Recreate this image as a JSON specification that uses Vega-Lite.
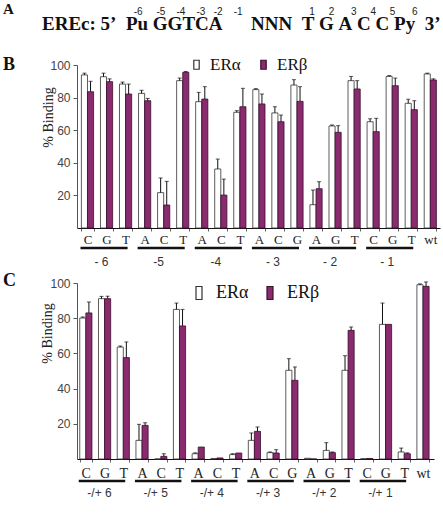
{
  "$schema": "https://vega.github.io/schema/vega-lite/v6.json",
  "padding": {"left": 3, "top": 2, "right": 0, "bottom": 0},
  "autosize": {"type": "pad"},
  "config": {"view": {"stroke": null}, "font": "Liberation Serif"},
  "title": {"text": "A", "anchor": "start", "frame": "bounds", "font": "Liberation Serif", "fontSize": 15, "fontWeight": "bold", "color": "#111", "offset": -10},
  "spacing": 4,
  "resolve": {"scale": {"fill": "independent", "stroke": "independent"}, "legend": {"fill": "independent", "stroke": "independent"}},
  "datasets": {
    "b": [
      {"k": "C|-6", "r": "ERα", "v": 93.9, "e": 95},
      {"k": "C|-6", "r": "ERβ", "v": 83.6, "e": 90},
      {"k": "G|-6", "r": "ERα", "v": 92.8, "e": 95},
      {"k": "G|-6", "r": "ERβ", "v": 89.8, "e": 91.5},
      {"k": "T|-6", "r": "ERα", "v": 88.3, "e": 89.5},
      {"k": "T|-6", "r": "ERβ", "v": 82.2, "e": 88.3},
      {"k": "A|-5", "r": "ERα", "v": 82.6, "e": 84.5},
      {"k": "A|-5", "r": "ERβ", "v": 78.1, "e": 79.5},
      {"k": "C|-5", "r": "ERα", "v": 21.7, "e": 30.7},
      {"k": "C|-5", "r": "ERβ", "v": 14.1, "e": 28.6},
      {"k": "T|-5", "r": "ERα", "v": 90.4, "e": 92},
      {"k": "T|-5", "r": "ERβ", "v": 95.5, "e": 96},
      {"k": "A|-4", "r": "ERα", "v": 77.5, "e": 83.2},
      {"k": "A|-4", "r": "ERβ", "v": 79.1, "e": 86.7},
      {"k": "C|-4", "r": "ERα", "v": 36.2, "e": 42.3},
      {"k": "C|-4", "r": "ERβ", "v": 20.2, "e": 30},
      {"k": "T|-4", "r": "ERα", "v": 71, "e": 72},
      {"k": "T|-4", "r": "ERβ", "v": 74.4, "e": 85.7},
      {"k": "A|-3", "r": "ERα", "v": 84.9, "e": 85.5},
      {"k": "A|-3", "r": "ERβ", "v": 76.1, "e": 82.2},
      {"k": "C|-3", "r": "ERα", "v": 70.6, "e": 74.4},
      {"k": "C|-3", "r": "ERβ", "v": 65.2, "e": 69.3},
      {"k": "G|-3", "r": "ERα", "v": 87.7, "e": 91},
      {"k": "G|-3", "r": "ERβ", "v": 77.7, "e": 86.7},
      {"k": "A|-2", "r": "ERα", "v": 14.3, "e": 23.3},
      {"k": "A|-2", "r": "ERβ", "v": 24.1, "e": 28.4},
      {"k": "G|-2", "r": "ERα", "v": 62.6, "e": 63.2},
      {"k": "G|-2", "r": "ERβ", "v": 58.7, "e": 62.8},
      {"k": "T|-2", "r": "ERα", "v": 90.4, "e": 93},
      {"k": "T|-2", "r": "ERβ", "v": 85.3, "e": 90.4},
      {"k": "C|-1", "r": "ERα", "v": 65.2, "e": 67},
      {"k": "C|-1", "r": "ERβ", "v": 59.1, "e": 67.3},
      {"k": "G|-1", "r": "ERα", "v": 93, "e": 93.5},
      {"k": "G|-1", "r": "ERβ", "v": 87.3, "e": 92},
      {"k": "T|-1", "r": "ERα", "v": 76.5, "e": 79},
      {"k": "T|-1", "r": "ERβ", "v": 72.6, "e": 78.1},
      {"k": "wt|", "r": "ERα", "v": 94.5, "e": 95},
      {"k": "wt|", "r": "ERβ", "v": 90.8, "e": 91.5}
    ],
    "c": [
      {"k": "C|-6", "r": "ERα", "v": 80.1, "e": 80.7},
      {"k": "C|-6", "r": "ERβ", "v": 83, "e": 89.2},
      {"k": "G|-6", "r": "ERα", "v": 91.1, "e": 92.4},
      {"k": "G|-6", "r": "ERβ", "v": 91.1, "e": 92.5},
      {"k": "T|-6", "r": "ERα", "v": 63.6, "e": 64.2},
      {"k": "T|-6", "r": "ERβ", "v": 57.6, "e": 66.5},
      {"k": "A|-5", "r": "ERα", "v": 10.6, "e": 19.7},
      {"k": "A|-5", "r": "ERβ", "v": 19.1, "e": 20.6},
      {"k": "C|-5", "r": "ERα", "v": 0, "e": null},
      {"k": "C|-5", "r": "ERβ", "v": 1.5, "e": 3},
      {"k": "T|-5", "r": "ERα", "v": 85, "e": 88.6},
      {"k": "T|-5", "r": "ERβ", "v": 75.6, "e": 85},
      {"k": "A|-4", "r": "ERα", "v": 3, "e": 3.5},
      {"k": "A|-4", "r": "ERβ", "v": 6.8, "e": null},
      {"k": "C|-4", "r": "ERα", "v": 0.3, "e": null},
      {"k": "C|-4", "r": "ERβ", "v": 0.6, "e": null},
      {"k": "T|-4", "r": "ERα", "v": 2.5, "e": 3},
      {"k": "T|-4", "r": "ERβ", "v": 3.4, "e": null},
      {"k": "A|-3", "r": "ERα", "v": 10.6, "e": 14.8},
      {"k": "A|-3", "r": "ERβ", "v": 15.7, "e": 18.2},
      {"k": "C|-3", "r": "ERα", "v": 3.6, "e": 4},
      {"k": "C|-3", "r": "ERβ", "v": 3.4, "e": 5.3},
      {"k": "G|-3", "r": "ERα", "v": 50.4, "e": 57},
      {"k": "G|-3", "r": "ERβ", "v": 44.7, "e": 52.3},
      {"k": "A|-2", "r": "ERα", "v": 0.4, "e": null},
      {"k": "A|-2", "r": "ERβ", "v": 0, "e": null},
      {"k": "G|-2", "r": "ERα", "v": 4.9, "e": 9.3},
      {"k": "G|-2", "r": "ERβ", "v": 3.6, "e": 4},
      {"k": "T|-2", "r": "ERα", "v": 50.4, "e": 58.7},
      {"k": "T|-2", "r": "ERβ", "v": 73.1, "e": 75},
      {"k": "C|-1", "r": "ERα", "v": 0.2, "e": null},
      {"k": "C|-1", "r": "ERβ", "v": 0.3, "e": null},
      {"k": "G|-1", "r": "ERα", "v": 76.5, "e": 88.6},
      {"k": "G|-1", "r": "ERβ", "v": 76.5, "e": null},
      {"k": "T|-1", "r": "ERα", "v": 4, "e": 6.2},
      {"k": "T|-1", "r": "ERβ", "v": 3, "e": 3.5},
      {"k": "wt|", "r": "ERα", "v": 99, "e": 99.5},
      {"k": "wt|", "r": "ERβ", "v": 98.1, "e": 100.6}
    ],
    "gb": [
      {"a": "C|-6", "z": "T|-6", "m": "G|-6", "g": "- 6"},
      {"a": "A|-5", "z": "T|-5", "m": "C|-5", "g": "-5"},
      {"a": "A|-4", "z": "T|-4", "m": "C|-4", "g": "-4"},
      {"a": "A|-3", "z": "G|-3", "m": "C|-3", "g": "- 3"},
      {"a": "A|-2", "z": "T|-2", "m": "G|-2", "g": "- 2"},
      {"a": "C|-1", "z": "T|-1", "m": "G|-1", "g": "- 1"}
    ],
    "gc": [
      {"a": "C|-6", "z": "T|-6", "m": "G|-6", "g": "-/+ 6"},
      {"a": "A|-5", "z": "T|-5", "m": "C|-5", "g": "-/+ 5"},
      {"a": "A|-4", "z": "T|-4", "m": "C|-4", "g": "-/+ 4"},
      {"a": "A|-3", "z": "G|-3", "m": "C|-3", "g": "-/+ 3"},
      {"a": "A|-2", "z": "T|-2", "m": "G|-2", "g": "-/+ 2"},
      {"a": "C|-1", "z": "T|-1", "m": "G|-1", "g": "-/+ 1"}
    ]
  },
  "vconcat": [
    {
      "width": 360,
      "height": 18,
      "data": {"values": []},
      "mark": "point",
      "title": {
        "text": "\u200b\u00a0\u00a0\u00a0\u00a0\u00a0\u00a0\u00a0\u00a0\u00a0\u00a0\u00a0\u00a0\u00a0\u00a0\u00a0\u00a0\u00a0\u00a0\u00a0\u00a0\u00a0\u00a0\u00a0\u00a0\u00a0\u00a0\u00a0\u00a0\u00a0\u00a0\u00a0\u00a0\u00a0-6\u00a0\u00a0\u00a0\u00a0\u00a0-5\u00a0\u00a0\u00a0\u00a0-4\u00a0\u00a0\u00a0\u00a0-3\u00a0\u00a0\u00a0-2\u00a0\u00a0\u00a0\u00a0-1\u00a0\u00a0\u00a0\u00a0\u00a0\u00a0\u00a0\u00a0\u00a0\u00a0\u00a0\u00a0\u00a0\u00a0\u00a0\u00a0\u00a0\u00a0\u00a0\u00a0\u00a0\u00a0\u00a0\u00a01\u00a0\u00a0\u00a0\u00a0\u00a02\u00a0\u00a0\u00a0\u00a0\u00a0\u00a03\u00a0\u00a0\u00a0\u00a0\u00a04\u00a0\u00a0\u00a0\u00a0\u00a05\u00a0\u00a0\u00a0\u00a0\u00a0\u00a06",
        "subtitle": "EREc:\u00a05’\u00a0\u00a0Pu\u00a0GGTCA\u00a0\u00a0\u00a0\u00a0\u00a0\u00a0NNN\u00a0\u00a0T\u00a0G\u00a0A\u00a0C\u00a0C\u00a0Py\u00a0\u00a03’",
        "anchor": "start",
        "frame": "group",
        "dx": -35,
        "font": "Liberation Sans",
        "fontSize": 10,
        "fontWeight": "normal",
        "color": "#222",
        "subtitleFont": "Liberation Serif",
        "subtitleFontSize": 19,
        "subtitleFontWeight": "bold",
        "subtitleColor": "#111",
        "subtitlePadding": -2,
        "offset": 0
      }
    },
    {
      "width": 363,
      "height": 163,
      "title": {"text": "B", "anchor": "start", "frame": "group", "dx": -74, "offset": -18, "fontSize": 18, "fontWeight": "bold", "font": "Liberation Serif", "color": "#111"},
      "layer": [
        {
          "data": {"name": "b"},
          "mark": {"type": "bar", "strokeWidth": 0.8},
          "encoding": {
            "x": {"field": "k", "type": "nominal", "scale": {"domain": ["C|-6","G|-6","T|-6","A|-5","C|-5","T|-5","A|-4","C|-4","T|-4","A|-3","C|-3","G|-3","A|-2","G|-2","T|-2","C|-1","G|-1","T|-1","wt|"], "paddingInner": 0.36, "paddingOuter": 0.21, "align": 0.55},
              "axis": {"title": null, "labelExpr": "split(datum.label, '|')[0]", "labelAngle": 0, "labelFont": "Liberation Serif", "labelFontSize": 13, "labelColor": "#222", "domainColor": "#111", "domainWidth": 1.2, "tickBand": "extent", "tickSize": 3, "tickColor": "#666", "labelPadding": 2}},
            "xOffset": {"field": "r", "type": "nominal", "scale": {"domain": ["ERα", "ERβ"], "paddingInner": 0, "paddingOuter": 0}},
            "y": {"field": "v", "type": "quantitative", "scale": {"domain": [0, 100]},
              "axis": {"title": "% Binding", "values": [20, 40, 60, 80, 100], "grid": false, "labelFont": "Liberation Sans", "labelFontSize": 12, "labelColor": "#444", "tickSize": 4, "tickColor": "#555", "domainColor": "#555", "labelPadding": 3, "titleFont": "Liberation Serif", "titleFontSize": 14, "titleFontWeight": "normal", "titleColor": "#222", "titleAngle": 270, "titleX": -25, "titleY": 52, "titleAlign": "center", "titleBaseline": "alphabetic"}},
            "fill": {"field": "r", "type": "nominal", "scale": {"domain": ["ERα", "ERβ"], "range": ["#ffffff", "#8a2a6f"]},
              "legend": {"title": null, "orient": "none", "legendX": 111, "legendY": -9, "direction": "horizontal", "symbolType": "M-0.6,-1H0.6V1H-0.6Z", "symbolSize": 81, "symbolStrokeColor": "#111", "symbolStrokeWidth": 1.2, "labelFont": "Liberation Serif", "labelFontSize": 17, "labelColor": "#111", "columnPadding": 14, "labelOffset": 5}},
            "stroke": {"field": "r", "type": "nominal", "scale": {"domain": ["ERα", "ERβ"], "range": ["#333333", "#3a0f2c"]}, "legend": null}
          }
        },
        {
          "data": {"name": "b"},
          "transform": [{"filter": "isValid(datum.e)"}],
          "mark": {"type": "rule", "color": "#111", "strokeWidth": 1},
          "encoding": {
            "x": {"field": "k", "type": "nominal"},
            "xOffset": {"field": "r", "type": "nominal"},
            "y": {"field": "v", "type": "quantitative"},
            "y2": {"field": "e"}
          }
        },
        {
          "data": {"name": "b"},
          "transform": [{"filter": "isValid(datum.e)"}],
          "mark": {"type": "tick", "color": "#111", "thickness": 1, "size": 4},
          "encoding": {
            "x": {"field": "k", "type": "nominal"},
            "xOffset": {"field": "r", "type": "nominal"},
            "y": {"field": "e", "type": "quantitative"}
          }
        },
        {
          "data": {"name": "gb"},
          "mark": {"type": "rule", "color": "#111", "strokeWidth": 2.5, "yOffset": 20, "xOffset": -7, "x2Offset": 2},
          "encoding": {
            "x": {"field": "a", "type": "nominal"},
            "x2": {"field": "z"},
            "y": {"datum": 0}
          }
        },
        {
          "data": {"name": "gb"},
          "mark": {"type": "text", "font": "Liberation Sans", "fontSize": 12, "color": "#333", "dy": 34, "dx": -5, "baseline": "middle"},
          "encoding": {
            "x": {"field": "m", "type": "nominal"},
            "y": {"datum": 0},
            "text": {"field": "g"}
          }
        }
      ]
    },
    {
      "width": 357,
      "height": 176,
      "title": {"text": "C", "anchor": "start", "frame": "group", "dx": -74, "offset": -13, "fontSize": 18, "fontWeight": "bold", "font": "Liberation Serif", "color": "#111"},
      "layer": [
        {
          "data": {"name": "c"},
          "mark": {"type": "bar", "strokeWidth": 0.8},
          "encoding": {
            "x": {"field": "k", "type": "nominal", "scale": {"domain": ["C|-6","G|-6","T|-6","A|-5","C|-5","T|-5","A|-4","C|-4","T|-4","A|-3","C|-3","G|-3","A|-2","G|-2","T|-2","C|-1","G|-1","T|-1","wt|"], "paddingInner": 0.36, "paddingOuter": 0.21, "align": 0.35},
              "axis": {"title": null, "labelExpr": "split(datum.label, '|')[0]", "labelAngle": 0, "labelFont": "Liberation Serif", "labelFontSize": 14, "labelColor": "#222", "domainColor": "#111", "domainWidth": 1.2, "tickBand": "extent", "tickSize": 3, "tickColor": "#666", "labelPadding": 4}},
            "xOffset": {"field": "r", "type": "nominal", "scale": {"domain": ["ERα", "ERβ"], "paddingInner": 0, "paddingOuter": 0}},
            "y": {"field": "v", "type": "quantitative", "scale": {"domain": [0, 100]},
              "axis": {"title": "% Binding", "values": [20, 40, 60, 80, 100], "grid": false, "labelFont": "Liberation Sans", "labelFontSize": 12, "labelColor": "#444", "tickSize": 4, "tickColor": "#555", "domainColor": "#555", "labelPadding": 3, "titleFont": "Liberation Serif", "titleFontSize": 14, "titleFontWeight": "normal", "titleColor": "#222", "titleAngle": 270, "titleX": -26, "titleY": 50, "titleAlign": "center", "titleBaseline": "alphabetic"}},
            "fill": {"field": "r", "type": "nominal", "scale": {"domain": ["ERα", "ERβ"], "range": ["#ffffff", "#8a2a6f"]},
              "legend": {"title": null, "orient": "none", "legendX": 113, "legendY": 1, "direction": "horizontal", "symbolType": "M-0.46,-1H0.46V1H-0.46Z", "symbolSize": 169, "symbolStrokeColor": "#111", "symbolStrokeWidth": 1.2, "labelFont": "Liberation Serif", "labelFontSize": 18, "labelColor": "#111", "columnPadding": 12, "labelOffset": 8}},
            "stroke": {"field": "r", "type": "nominal", "scale": {"domain": ["ERα", "ERβ"], "range": ["#333333", "#3a0f2c"]}, "legend": null}
          }
        },
        {
          "data": {"name": "c"},
          "transform": [{"filter": "isValid(datum.e)"}],
          "mark": {"type": "rule", "color": "#111", "strokeWidth": 1},
          "encoding": {
            "x": {"field": "k", "type": "nominal"},
            "xOffset": {"field": "r", "type": "nominal"},
            "y": {"field": "v", "type": "quantitative"},
            "y2": {"field": "e"}
          }
        },
        {
          "data": {"name": "c"},
          "transform": [{"filter": "isValid(datum.e)"}],
          "mark": {"type": "tick", "color": "#111", "thickness": 1, "size": 4},
          "encoding": {
            "x": {"field": "k", "type": "nominal"},
            "xOffset": {"field": "r", "type": "nominal"},
            "y": {"field": "e", "type": "quantitative"}
          }
        },
        {
          "data": {"name": "gc"},
          "mark": {"type": "rule", "color": "#111", "strokeWidth": 2.5, "yOffset": 22, "xOffset": -7, "x2Offset": 2},
          "encoding": {
            "x": {"field": "a", "type": "nominal"},
            "x2": {"field": "z"},
            "y": {"datum": 0}
          }
        },
        {
          "data": {"name": "gc"},
          "mark": {"type": "text", "font": "Liberation Sans", "fontSize": 12, "color": "#333", "dy": 34, "dx": -5, "baseline": "middle"},
          "encoding": {
            "x": {"field": "m", "type": "nominal"},
            "y": {"datum": 0},
            "text": {"field": "g"}
          }
        }
      ]
    }
  ]
}
